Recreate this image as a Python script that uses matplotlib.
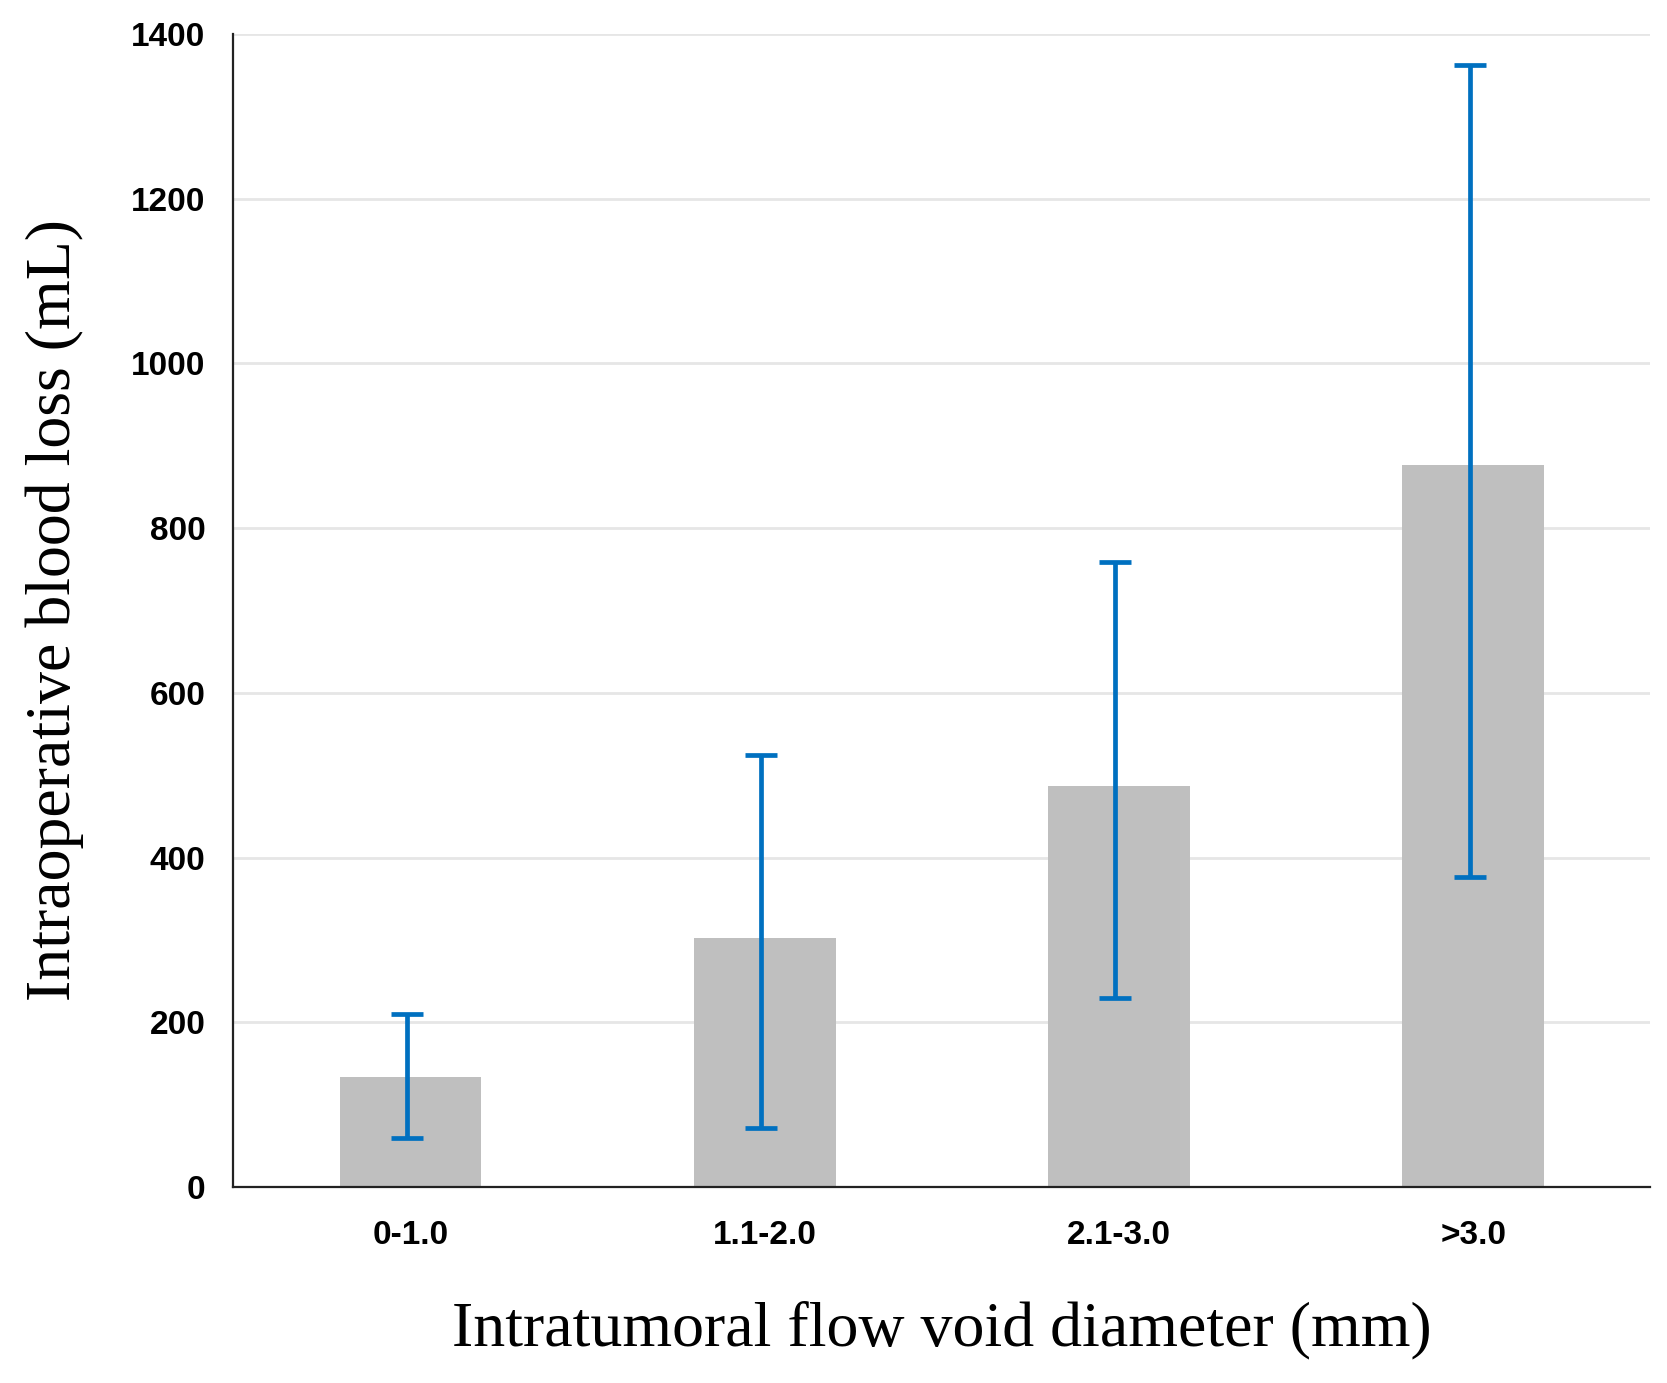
import numpy as np
import matplotlib
matplotlib.use('Agg')
import matplotlib.pyplot as plt

# data
categories = ['0-1.0', '1.1-2.0', '2.1-3.0', '>3.0']
means = [134, 302, 487, 877]
err_low = [59, 72, 230, 377]     # lower end of error bar
err_high = [210, 525, 759, 1362]  # upper end of error bar

bar_color = '#bfbfbf'
err_color = '#0070c0'

fig = plt.figure(figsize=(16.67, 13.83), dpi=100)
ax = fig.add_axes([0.14, 0.1417, 0.85, 0.8337])

x = np.arange(len(categories))
means_arr = np.array(means)
yerr = [means_arr - np.array(err_low), np.array(err_high) - means_arr]

ax.bar(x, means, width=0.4, color=bar_color, zorder=2)
ax.errorbar(x - 0.01, means, yerr=yerr, fmt='none', ecolor=err_color,
            elinewidth=3.4, capsize=11.5, capthick=3.4, zorder=3)

ax.set_xlim(-0.5, 3.5)
ax.set_ylim(0, 1400)
ax.set_yticks(np.arange(0, 1401, 200))
ax.set_xticks(x)
ax.set_xticklabels(categories)

# light horizontal gridlines
ax.yaxis.grid(True, color='#e6e6e6', linewidth=2)
ax.set_axisbelow(True)

for s in ['top', 'right']:
    ax.spines[s].set_visible(False)
ax.spines['left'].set_linewidth(1.6)
ax.spines['bottom'].set_linewidth(1.6)
ax.spines['left'].set_color('#222222')
ax.spines['bottom'].set_color('#222222')

ax.tick_params(axis='both', length=0, labelsize=24)
ax.tick_params(axis='y', pad=20)
ax.tick_params(axis='x', pad=24)
for lab in ax.get_xticklabels() + ax.get_yticklabels():
    lab.set_fontfamily('Liberation Sans')
    lab.set_fontweight('bold')

ax.set_ylabel('Intraoperative blood loss (mL)', fontfamily='Liberation Serif',
              fontsize=46, labelpad=34)
ax.set_xlabel('Intratumoral flow void diameter (mm)', fontfamily='Liberation Serif',
              fontsize=46, labelpad=36)

fig.savefig('out.png', dpi=100)
